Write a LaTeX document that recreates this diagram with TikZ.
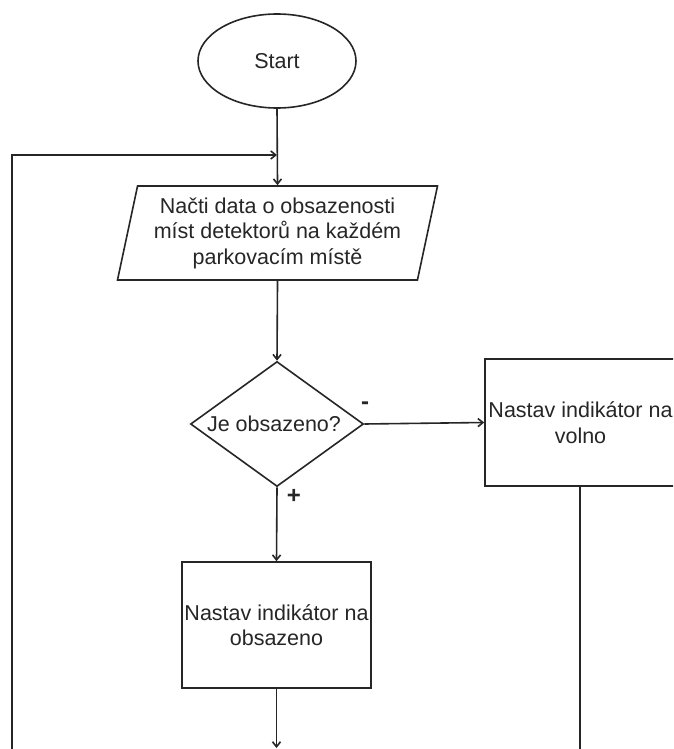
\documentclass[tikz,border=0pt]{standalone}
\usepackage{fontspec}
\setmainfont{Liberation Sans}
\usetikzlibrary{shapes.geometric,arrows.meta}
\definecolor{ink}{HTML}{262626}
\begin{document}
\begin{tikzpicture}[x=1pt,y=-1pt,
  every node/.style={font=\fontsize{21.5}{25.5}\selectfont, text=ink},
  shapeline/.style={draw=ink, line width=1.6pt},
  startbox/.style={shapeline, ellipse, minimum width=158pt, minimum height=94pt, inner sep=0pt},
  iobox/.style={shapeline, trapezium, trapezium left angle=76, trapezium right angle=104,
    trapezium stretches=true, minimum width=321pt, minimum height=94pt, inner sep=0pt, align=center},
  decbox/.style={shapeline, diamond, aspect=1.38, minimum width=173pt, minimum height=125pt, inner sep=0pt},
  actbox/.style={shapeline, rectangle, inner sep=0pt, align=center},
  flow/.style={draw=ink, line width=1.6pt, -{Straight Barb[length=5pt,width=8pt]}},
  plainline/.style={draw=ink, line width=1.6pt},
  branch/.style={font=\fontsize{24}{24}\selectfont\bfseries}
]
\useasboundingbox (0,0) rectangle (673,749);
\fill[white] (0,0) rectangle (673,749);
\clip (0,0) rectangle (673,749);

% flowchart shapes
\node[startbox] (start) at (277,61) {Start};
\node[iobox] (read) at (277.5,233) {Načti data o obsazenosti\\míst detektorů na každém\\parkovacím místě};
\node[decbox] (dec) at (277,424) {\hspace*{-6pt}Je obsazeno?};
\node[actbox, minimum width=191pt, minimum height=127pt] (free) at (580.5,422.5) {Nastav indikátor na\\volno};
\node[actbox, minimum width=189pt, minimum height=126pt] (busy) at (276.5,625) {Nastav indikátor na\\obsazeno};

% loop-back entry and open ends
\coordinate (join) at (277,155);
\coordinate (loopend) at (12,760);
\coordinate (busyout) at (276.5,748);
\coordinate (freeout) at (580,760);

% connectors
\draw[flow] (start.south) -- (read.north);
\draw[flow] (loopend) |- (join);
\draw[flow] (read.south) -- (dec.north);
\draw[flow] (dec.east) -- (free.west);
\draw[flow] (dec.south) -- (busy.north);
\draw[flow] (busy.south) -- (busyout);
\draw[plainline] (free.south -| freeout) -- (freeout);

% branch labels
\node[branch] (minus) at (365,406) {-};
\node[branch] (plus) at (294,496) {+};
\end{tikzpicture}
\end{document}
